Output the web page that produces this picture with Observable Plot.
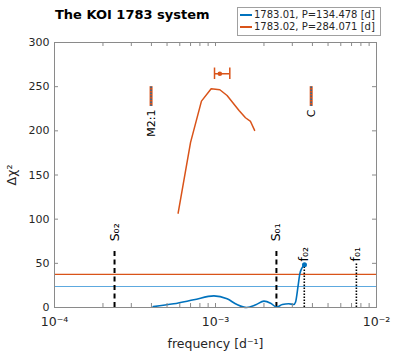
<!DOCTYPE html>
<html><head><meta charset="utf-8">
<script src="https://cdn.jsdelivr.net/npm/d3@7"></script>
<script src="https://cdn.jsdelivr.net/npm/@observablehq/plot@0.6"></script>
<style>
body{margin:0;background:#fff;}
#wrap{position:relative;width:416px;height:353px;font-family:"DejaVu Sans",sans-serif;}
#title{position:absolute;left:55px;top:7px;font-weight:bold;font-size:13px;color:#000;white-space:nowrap;}
#legend{position:absolute;left:237px;top:7px;width:142px;height:27px;border:1px solid #a0a0a0;background:#fff;font-size:10px;color:#262626;}
.row{position:absolute;left:2px;white-space:nowrap;display:flex;align-items:center;}
.sw{display:inline-block;width:12px;height:2px;margin-right:2px;}
</style></head>
<body><div id="wrap"><div id="chart"></div>
<div id="title">The KOI 1783 system</div>
<div id="legend">
<div class="row" style="top:1px"><span class="sw" style="background:#0072BD"></span><span id="l1"></span></div>
<div class="row" style="top:13px"><span class="sw" style="background:#D95319"></span><span id="l2"></span></div>
</div></div>
<script>
// ---- data ----
const seriesNames = ["1783.01, P=134.478 [d]", "1783.02, P=284.071 [d]"];
const blueFreq = [4.1e-4, 5.5e-4, 7.33e-4, 9.77e-4, 1.18e-3, 1.36e-3, 1.56e-3, 1.78e-3, 2.0e-3, 2.2e-3, 2.4e-3, 2.6e-3, 2.85e-3, 3.06e-3, 3.14e-3, 3.25e-3, 3.34e-3, 3.45e-3, 3.57e-3];
const blueDchi = [1, 4.2, 8.7, 13.2, 9.8, 3.4, 0, 3, 7.2, 4.9, 0.4, 3.4, 4.2, 3.4, 6, 23, 38, 45, 48.3];
const orangeFreq = [5.86e-4, 7.0e-4, 8.18e-4, 9.4e-4, 1.064e-3, 1.18e-3, 1.40e-3, 1.535e-3, 1.65e-3, 1.75e-3];
const orangeDchi = [106.8, 187, 233.6, 247.6, 246.5, 240, 223, 214.8, 210.6, 200.5];
const thresholds = [23.8, 37.5];               // blue, orange
const orangeBest = {f: 1.064e-3, lo: 9.86e-4, hi: 1.227e-3, d: 264.6, cap: 6.5};
const sNames = ["S₀₂", "S₀₁"];
const sFreq = [2.36e-4, 2.39e-3];
const sTop = [67, 67];
const fNames = ["f₀₂", "f₀₁"];
const fFreq = [3.56e-3, 7.5e-3];
const fTop = [48.3, 50];
const fLabelY = [51, 51];
const resNames = ["M2:1", "C"];
const resFreq = [3.98e-4, 3.93e-3];
const resLow = [227.6, 227.6];
const resHigh = [250, 250];
const xMajor = [1e-4, 1e-3, 1e-2];
const xTickLabels = ["10⁻⁴", "10⁻³", "10⁻²"];
const xMinor = [2e-4,3e-4,4e-4,5e-4,6e-4,7e-4,8e-4,9e-4,2e-3,3e-3,4e-3,5e-3,6e-3,7e-3,8e-3,9e-3];
const yTicks = [0, 50, 100, 150, 200, 250, 300];
const xLabel = "frequency [d⁻¹]";
const yLabel = "Δχ²";

document.getElementById("l1").textContent = seriesNames[0];
document.getElementById("l2").textContent = seriesNames[1];

const W = 416, H = 353, mL = 54, mR = 40, mT = 42, mB = 46;
const pW = W - mL - mR, pH = H - mT - mB;
const BLUE = "#0072BD", ORANGE = "#D95319", LBLUE = "#5DA9DF", AX = "#8a8a8a";

const blue = blueFreq.map((f, i) => ({f, d: blueDchi[i]}));
const orange = orangeFreq.map((f, i) => ({f, d: orangeDchi[i]}));
const sLines = sFreq.map((f, i) => ({f, top: sTop[i], name: sNames[i]}));
const fLines = fFreq.map((f, i) => ({f, top: fTop[i], ly: fLabelY[i], name: fNames[i]}));
const res = resFreq.map((f, i) => ({f, lo: resLow[i], hi: resHigh[i], name: resNames[i]}));
const xAll = xMajor.concat(xMinor);
const xFmt = d => {
  let best = 0;
  xMajor.forEach((v, i) => { if (Math.abs(Math.log10(v) - Math.log10(d)) < Math.abs(Math.log10(xMajor[best]) - Math.log10(d))) best = i; });
  return xTickLabels[best];
};

const chart = Plot.plot({
  width: W, height: H,
  marginLeft: mL, marginRight: mR, marginTop: mT, marginBottom: mB,
  style: {fontFamily: "DejaVu Sans", fontSize: "11px", color: "#262626", background: "white"},
  x: {type: "log", domain: [1e-4, 1e-2]},
  y: {domain: [0, 300]},
  marks: [
    Plot.ruleY([thresholds[0]], {stroke: LBLUE, strokeWidth: 1.2}),
    Plot.ruleY([thresholds[1]], {stroke: ORANGE, strokeWidth: 1.2}),
    Plot.ruleX(sLines, {x: "f", y1: 0, y2: "top", stroke: "black", strokeWidth: 2, strokeDasharray: "5,3.5"}),
    Plot.text(sLines, {x: "f", y: "top", text: "name", rotate: -90, textAnchor: "start", dy: -7, fontSize: 12.5, fill: "#000"}),
    Plot.ruleX(fLines, {x: "f", y1: 0, y2: "top", stroke: "black", strokeWidth: 1.6, strokeDasharray: "1.5,1.5"}),
    Plot.text(fLines, {x: "f", y: "ly", text: "name", rotate: -90, textAnchor: "start", dy: -1, fontSize: 12.5, fill: "#000"}),
    Plot.line(blue, {x: "f", y: "d", stroke: BLUE, strokeWidth: 1.6, curve: "monotone-x"}),
    Plot.dot([blue[blue.length - 1]], {x: "f", y: "d", r: 2.5, fill: BLUE}),
    Plot.line(orange, {x: "f", y: "d", stroke: ORANGE, strokeWidth: 1.5}),
    Plot.ruleY([orangeBest], {y: "d", x1: "lo", x2: "hi", stroke: ORANGE, strokeWidth: 1.5}),
    Plot.ruleX([orangeBest.lo, orangeBest.hi], {x: d => d, y1: orangeBest.d - orangeBest.cap, y2: orangeBest.d + orangeBest.cap, stroke: ORANGE, strokeWidth: 1.5}),
    Plot.dot([orangeBest], {x: "f", y: "d", r: 2.3, fill: ORANGE}),
    Plot.ruleX(res, {x: "f", y1: "lo", y2: "hi", stroke: ORANGE, strokeWidth: 3}),
    Plot.ruleX(res, {x: "f", y1: "lo", y2: "hi", stroke: BLUE, strokeWidth: 1.3, strokeDasharray: "1.5,1.5"}),
    Plot.text(res, {x: "f", y: "lo", text: "name", rotate: -90, textAnchor: "end", dy: 3, fontSize: 11, fill: "#000"}),
    Plot.tickX(xAll, {x: d => d, stroke: AX, insetTop: pH - 4}),
    Plot.tickX(xAll, {x: d => d, stroke: AX, insetBottom: pH - 4}),
    Plot.tickY(yTicks, {y: d => d, stroke: AX, insetRight: pW - 4}),
    Plot.tickY(yTicks, {y: d => d, stroke: AX, insetLeft: pW - 4}),
    Plot.frame({stroke: AX}),
    Plot.axisX(xMajor, {tickSize: 0, tickPadding: 10, tickFormat: xFmt, label: xLabel, labelAnchor: "center", labelOffset: 40, labelArrow: "none", fontSize: 12.5}),
    Plot.axisY(yTicks, {tickSize: 0, tickPadding: 5, label: null, fontSize: 11}),
    Plot.axisY([], {tickSize: 0, label: yLabel, labelAnchor: "center", labelOffset: 47, labelArrow: "none", fontSize: 12.5})
  ]
});
document.getElementById("chart").appendChild(chart);
</script></body></html>
